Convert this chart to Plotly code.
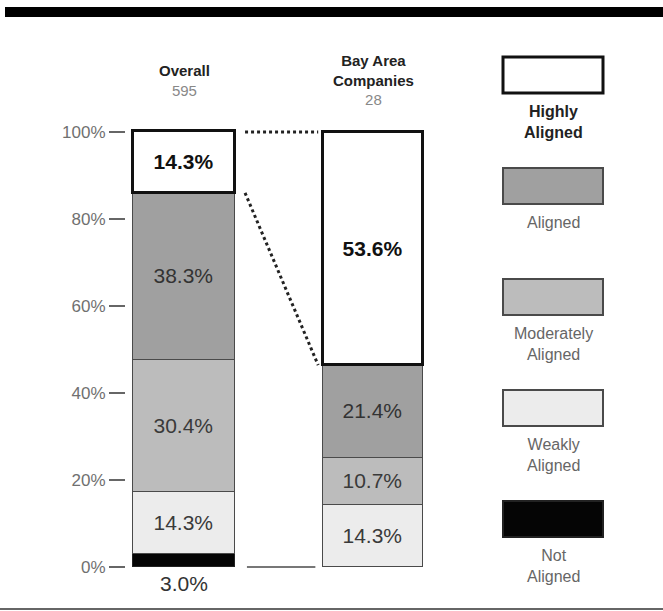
import plotly.graph_objects as go

# ---------------- data ----------------
categories = ["Overall", "Bay Area Companies"]
header_titles = ["Overall", "Bay Area<br>Companies"]
sample_sizes = ["595", "28"]
levels = ["Not Aligned", "Weakly Aligned", "Moderately Aligned", "Aligned", "Highly Aligned"]
overall = [3.0, 14.3, 30.4, 38.3, 14.3]
bay_area = [0.0, 14.3, 10.7, 21.4, 53.6]
tick_vals = [0, 20, 40, 60, 80, 100]
tick_labels = ["0%", "20%", "40%", "60%", "80%", "100%"]
legend_labels = ["Highly<br>Aligned", "Aligned", "Moderately<br>Aligned", "Weakly<br>Aligned", "Not<br>Aligned"]

# ---------------- styles ----------------
W, H = 663, 611
FONT = "Liberation Sans, Arial, Helvetica, sans-serif"
fill = {"Not Aligned": "#050505", "Weakly Aligned": "#ececec", "Moderately Aligned": "#bcbcbc",
        "Aligned": "#a0a0a0", "Highly Aligned": "#ffffff"}
edge = {"Not Aligned": "#222222", "Weakly Aligned": "#4a4a4a", "Moderately Aligned": "#4a4a4a",
        "Aligned": "#4a4a4a", "Highly Aligned": "#111111"}
edge_w = {"Not Aligned": 1.5, "Weakly Aligned": 1.5, "Moderately Aligned": 1.5,
          "Aligned": 1.5, "Highly Aligned": 3}
txt_col = {"Not Aligned": "#333", "Weakly Aligned": "#3a3a3a", "Moderately Aligned": "#3a3a3a",
           "Aligned": "#333", "Highly Aligned": "#111"}

# axis mapping: bar centres at x=0,1 ; y in percent
px_per_x = 189.0
x0_px = 184.0
xr = [-x0_px / px_per_x, (W - x0_px) / px_per_x]
px_per_pct = 4.35
zero_px = 567.0
yr = [-(H - zero_px) / px_per_pct, zero_px / px_per_pct]

xs = list(range(len(categories)))
bar_w = [0.54, 0.53]

fig = go.Figure()
series = [overall, bay_area]
for i, lev in enumerate(levels):
    vals = [s[i] for s in series]
    texts = [f"{v:.1f}%" if (v > 0 and lev != "Not Aligned") else "" for v in vals]
    fig.add_trace(go.Bar(
        x=xs, y=vals, width=bar_w, name=lev,
        marker=dict(color=fill[lev], line=dict(color=edge[lev], width=edge_w[lev])),
        text=texts, textposition="inside", insidetextanchor="middle", textangle=0,
        textfont=dict(family=FONT, size=21, color=txt_col[lev],
                      weight="bold" if lev == "Highly Aligned" else "normal"),
        hoverinfo="skip", showlegend=False,
    ))

# connector lines between the two bars
hi_base_overall = sum(overall[:-1])
hi_base_bay = sum(bay_area[:-1])
xa = xs[0] + 0.323
xb = xs[1] - 0.29
fig.add_trace(go.Scatter(x=[xa, xb], y=[100, 100], mode="lines",
                         line=dict(color="#222", width=3, dash="dot"), hoverinfo="skip", showlegend=False))
fig.add_trace(go.Scatter(x=[xa, xb], y=[hi_base_overall, hi_base_bay], mode="lines",
                         line=dict(color="#222", width=3, dash="dot"), hoverinfo="skip", showlegend=False))
fig.add_trace(go.Scatter(x=[xa + 0.01, xb - 0.015], y=[0, 0], mode="lines",
                         line=dict(color="#777", width=2), hoverinfo="skip", showlegend=False))

annotations = []
# "3.0%" below the Overall bar
annotations.append(dict(x=xs[0], y=0, xref="x", yref="y", text=f"{overall[0]:.1f}%",
                        showarrow=False, yanchor="top", xanchor="center", yshift=-3,
                        font=dict(family=FONT, size=21, color="#333")))
# column headers
for i, (t, n) in enumerate(zip(header_titles, sample_sizes)):
    annotations.append(dict(x=xs[i], y=1 - 80 / H, xref="x", yref="paper",
                            text=f"<b>{t}</b><br><span style='color:#888'>{n}</span>",
                            showarrow=False, yanchor="middle", xanchor="center", align="center",
                            font=dict(family=FONT, size=15, color="#222")))

shapes = []
# top black band and bottom rule
shapes.append(dict(type="rect", xref="paper", yref="paper", x0=5 / W, x1=1, y0=1 - 17 / H, y1=1 - 7 / H,
                   fillcolor="#000", line=dict(width=0)))
shapes.append(dict(type="line", xref="paper", yref="paper", x0=0, x1=1, y0=1 - 609 / H, y1=1 - 609 / H,
                   line=dict(color="#666", width=2)))

# custom legend (top to bottom)
leg_levels = levels[::-1]
for i, lev in enumerate(leg_levels):
    top = 57 + i * 111
    bot = top + 36
    shapes.append(dict(type="rect", xref="paper", yref="paper", x0=503 / W, x1=603 / W,
                       y0=1 - bot / H, y1=1 - top / H, fillcolor=fill[lev],
                       line=dict(color=edge[lev], width=edge_w[lev] + (0.5 if lev != "Highly Aligned" else 0))))
    is_hi = lev == "Highly Aligned"
    label = f"<b>{legend_labels[i]}</b>" if is_hi else legend_labels[i]
    annotations.append(dict(x=553 / W, y=1 - (bot + 8) / H, xref="paper", yref="paper",
                            text=label, showarrow=False, yanchor="top", xanchor="center", align="center",
                            font=dict(family=FONT, size=16, color="#222" if is_hi else "#666")))

fig.update_layout(
    width=W, height=H, margin=dict(l=0, r=0, t=0, b=0),
    paper_bgcolor="white", plot_bgcolor="white",
    barmode="stack", bargap=0,
    xaxis=dict(range=xr, visible=False, fixedrange=True),
    yaxis=dict(range=yr, anchor="free", position=125 / W, tickvals=tick_vals, ticktext=tick_labels,
               ticks="outside", ticklen=16, tickwidth=2, tickcolor="#666",
               tickfont=dict(family=FONT, size=17, color="#707070"),
               showgrid=False, zeroline=False, showline=False, automargin=False, fixedrange=True),
    shapes=shapes, annotations=annotations, showlegend=False,
)

fig.write_html("out.html")
